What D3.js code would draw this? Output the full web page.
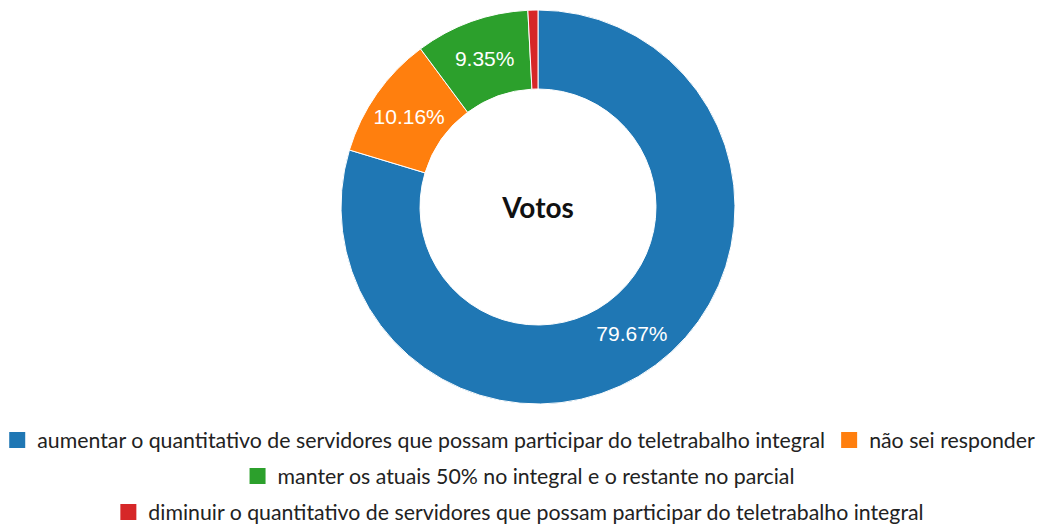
<!DOCTYPE html>
<html>
<head>
<meta charset="utf-8">
<script src="https://cdn.jsdelivr.net/npm/d3@7"></script>
<style>
  html, body { margin: 0; padding: 0; background: #fff; }
  svg { display: block; }
</style>
</head>
<body>
<svg id="chart" width="1044" height="524"></svg>
<script>
const categories = [
  "aumentar o quantitativo de servidores que possam participar do teletrabalho integral",
  "não sei responder",
  "manter os atuais 50% no integral e o restante no parcial",
  "diminuir o quantitativo de servidores que possam participar do teletrabalho integral"
];
const values = [79.67, 10.16, 9.35, 0.82];
const colors = ["#1f77b4", "#ff7f0e", "#2ca02c", "#d62728"];
const centerTitle = "Votos";

const W = 1044, H = 524;
const cx = 538, cy = 207, R = 197, r = 118;
const svg = d3.select("#chart");

const data = categories.map((c, i) => ({ name: c, value: values[i], color: colors[i] }));
const pie = d3.pie().value(d => d.value).sort(null);
const arc = d3.arc().innerRadius(r).outerRadius(R);
const arcs = pie(data);

const g = svg.append("g").attr("transform", `translate(${cx},${cy})`);
g.selectAll("path").data(arcs).join("path")
  .attr("d", arc)
  .attr("fill", d => d.data.color)
  .attr("stroke", "#fff")
  .attr("stroke-width", 1);

g.selectAll("text.lbl").data(arcs.filter(d => d.data.value > 5)).join("text")
  .attr("class", "lbl")
  .attr("transform", d => `translate(${arc.centroid(d)})`)
  .attr("text-anchor", "middle")
  .attr("dominant-baseline", "central")
  .attr("fill", "#fff")
  .style("font-family", "'Liberation Sans', Arial, sans-serif")
  .style("font-size", "21px")
  .text(d => d.data.value.toFixed(2) + "%");

g.append("text")
  .attr("text-anchor", "middle")
  .attr("dominant-baseline", "central")
  .attr("fill", "#111")
  .style("font-family", "Lato, 'Open Sans', sans-serif")
  .style("font-weight", "bold")
  .style("font-size", "28px")
  .text(centerTitle);

// Legend
const box = 16, gapText = 12, gapItem = 16, lineH = 36, firstY = 440;
const legend = svg.append("g");
const items = data.map(d => {
  const t = legend.append("text")
    .style("font-family", "Lato, 'Open Sans', sans-serif")
    .style("font-size", "21.3px")
    .attr("fill", "#222")
    .attr("dominant-baseline", "central")
    .text(d.name);
  const w = t.node().getComputedTextLength();
  return { d, t, w: box + gapText + w };
});
const lines = [];
let cur = [], curW = 0;
items.forEach(it => {
  const add = cur.length ? gapItem + it.w : it.w;
  if (cur.length && curW + add > W) { lines.push({ items: cur, w: curW }); cur = [it]; curW = it.w; }
  else { cur.push(it); curW += add; }
});
if (cur.length) lines.push({ items: cur, w: curW });
lines.forEach((ln, li) => {
  let x = (W - ln.w) / 2;
  const y = firstY + li * lineH;
  ln.items.forEach(it => {
    legend.append("rect").attr("x", x).attr("y", y - box / 2).attr("width", box).attr("height", box).attr("fill", it.d.color);
    it.t.attr("x", x + box + gapText).attr("y", y);
    x += it.w + gapItem;
  });
});
</script>
</body>
</html>
